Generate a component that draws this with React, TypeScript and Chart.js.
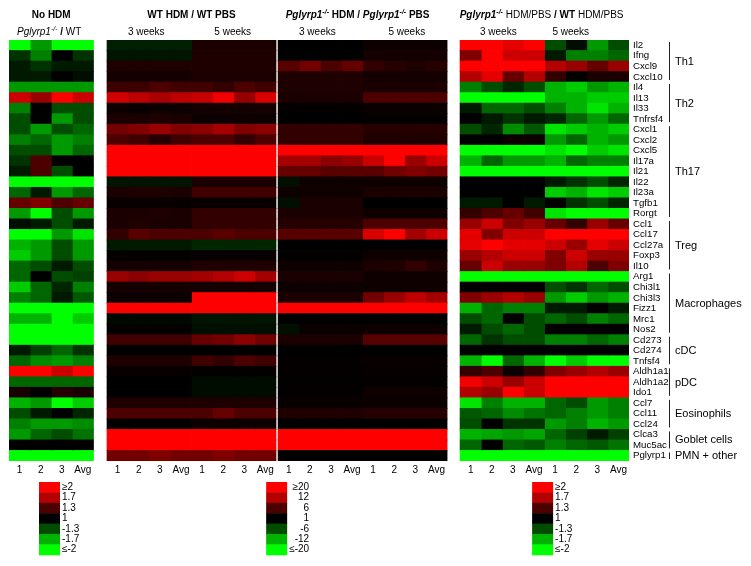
import React, { useEffect, useRef } from "react";
import { Chart, registerables } from "chart.js";
Chart.register(...registerables);

const FAMILY = "'Liberation Sans', Arial, sans-serif";

const genes = ["Il2","Ifng","Cxcl9","Cxcl10","Il4","Il13","Il33","Tnfrsf4","Cxcl1","Cxcl2","Cxcl5","Il17a","Il21","Il22","Il23a","Tgfb1","Rorgt","Ccl1","Ccl17","Ccl27a","Foxp3","Il10","Arg1","Chi3l1","Chi3l3","Fizz1","Mrc1","Nos2","Cd273","Cd274","Tnfsf4","Aldh1a1","Aldh1a2","Ido1","Ccl7","Ccl11","Ccl24","Clca3","Muc5ac","Pglyrp1"];

const columnLabels = ["1", "2", "3", "Avg"];

// Pglyrp1-/- / WT, no HDM (fold change)
const noHdm = [
  [-2,-1.6,-2,-2],[-1.2,-1.5,1,-1.2],[-1.1,-1.2,-1.1,-1.1],[-1.1,-1.1,1,-1.05],[-1.6,-1.6,-1.6,-1.6],
  [1.8,1.6,2,1.8],[-1.5,1,-1.3,-1.3],[-1.3,1,-1.6,-1.3],[-1.3,-1.6,-1.3,-1.4],[-1.5,-1.4,-1.6,-1.5],
  [-1.3,-1.3,-1.6,-1.4],[-1.2,1.3,1,1],[-1.1,1.3,-1.3,1],[-2,-2,-2,-2],[-1.4,-1.1,-1.6,-1.4],
  [1.4,1.5,1.3,1.4],[-1.6,-2,-1.3,-1.6],[-1.05,-1.1,-1.3,-1.1],[-2,-2,-1.6,-1.9],[-1.7,-1.6,-1.3,-1.6],
  [-1.8,-1.6,-1.3,-1.6],[-1.4,-1.3,-1.1,-1.3],[-1.4,1,-1.3,-1.25],[-1.8,-1.4,-1.15,-1.5],[-1.5,-1.4,-1.1,-1.35],
  [-2,-2,-2,-2],[-1.7,-1.7,-2,-1.8],[-2,-2,-2,-2],[-2,-2,-2,-2],[-1.1,-1.25,-1.4,-1.2],
  [-1.4,-1.55,-1.6,-1.5],[2,2,1.8,2],[-1.4,-1.4,-1.4,-1.4],[1.1,1,1.15,1.1],[-1.7,-1.6,-2,-1.8],
  [-1.3,-1.1,1,-1.15],[-1.5,-1.6,-1.6,-1.55],[-1.6,-1.4,-1.3,-1.45],[1,1,1,1],[-2,-2,-2,-2]
];

// WT HDM / WT PBS, 3 weeks
const wtHdm3w = [
  [-3,-3,-3,-3],[-2.3,-2.3,-2.3,-2.3],[3,3,3,3],[2.3,2.3,2.3,2.3],[5,5,6,5.2],
  [15,13,11.5,13],[1.8,1.5,1.8,1.8],[2.7,2.7,3,2.7],[8.2,9,10.5,9],[6,5.2,3.5,5.2],
  [20,20,20,20],[20,20,20,20],[20,20,20,20],[-2.3,-2.3,-2.3,-2.3],[2.7,3,3,2.7],
  [1.5,1.5,1.5,1.5],[2.7,2.7,3,2.7],[2.7,3,2.7,2.7],[4.3,6.7,6,6],[-2.7,-2.7,-2.7,-2.7],
  [1.3,1.3,1.3,1.3],[2.3,2.3,2.3,2.3],[10.5,9.7,10.5,10.5],[2.3,2.3,2.3,2.3],[1.8,1.8,1.8,1.8],
  [20,20,20,20],[-1.5,-1.5,-1.5,-1.5],[1.3,1.3,1.3,1.3],[5.2,5.2,5.2,5.2],[1,1,1,1],
  [3,3,3,3],[1.5,1.5,1.5,1.5],[1,1,1,1],[1,1,1,1],[3,3,3,3],
  [6,6,6,6],[1.3,1.3,1.3,1.3],[20,20,20,20],[20,20,20,20],[8.2,8.2,9,8.2]
];

// WT HDM / WT PBS, 5 weeks
const wtHdm5w = [
  [2.7,2.7,2.7,2.7],[3,3,3,3],[3,3,3,3],[2.7,2.7,2.7,2.7],[5.2,4.3,6,5.2],
  [14,18.5,10.3,16],[2.3,2.3,2.3,2.3],[1.8,1.8,1.8,1.8],[9.7,11.2,9,9.7],[6,6,4.3,6],
  [20,20,20,20],[20,20,20,20],[20,20,20,20],[2.7,2.7,2.7,2.7],[5.2,5.2,5.2,5.2],
  [1.5,1.5,1.5,1.5],[4.3,4.3,4.3,4.3],[4.3,4.3,4.3,4.3],[6,6.7,6,6],[-3.5,-3.5,-3.5,-3.5],
  [1.5,1.5,1.5,1.5],[3,3,3,3],[11.2,12,14.7,11.2],[2.3,2.3,2.3,2.3],[20,20,20,20],
  [20,20,20,20],[-2.3,-2.3,-2.3,-2.3],[-2,-2,-2,-2],[7.5,8.2,9.7,8.2],[1,1,1,1],
  [5.2,4.3,6,5.2],[1.3,1.3,1.3,1.3],[-1.8,-1.8,-1.8,-1.8],[-1.8,-1.8,-1.8,-1.8],[3,3,3,3],
  [6,7.5,6,6],[1.8,1.8,1.8,1.8],[20,20,20,20],[20,20,20,20],[8.2,9,8.2,8.2]
];

// Pglyrp1-/- HDM / Pglyrp1-/- PBS, 3 weeks
const koHdm3w = [
  [1,1,1,1],[1,1,1,1],[6.7,8.2,6,7.5],[3,3,3,3],[3,3,3,3],
  [2.7,2.7,2.7,2.7],[1.3,1.3,1.3,1.3],[1,1,1,1],[4.3,4.3,4.3,4.3],[4.3,4.3,4.3,4.3],
  [20,20,20,20],[11.2,11.2,9.7,10.5],[7.5,7.5,6.7,6.7],[-2,2,2,2],[2,2,2,2],
  [-2,2.7,2.7,2.7],[2.7,2.7,2.7,2.7],[3.5,3.5,3.5,3.5],[6.7,6.7,6.7,6.7],[1,1,1,1],
  [1.2,1.2,1.2,1.2],[2,2,2,2],[2.7,2.7,2.7,2.7],[1.8,1.8,1.8,1.8],[2.7,2.7,2.7,2.7],
  [20,20,20,20],[1,1,1,1],[-2,1.7,1.7,1.7],[2.7,2.7,2.7,2.7],[1,1,1,1],
  [1.3,1.3,1.3,1.3],[1.3,1.3,1.3,1.3],[1.2,1.2,1.2,1.2],[1.3,1.3,1.3,1.3],[1.5,1.5,1.5,1.5],
  [3,3,3,3],[1,1,1,1],[20,20,20,20],[20,20,20,20],[1,1,1,1]
];

// Pglyrp1-/- HDM / Pglyrp1-/- PBS, 5 weeks
const koHdm5w = [
  [1.8,1.8,1.8,1.8],[2.3,2.3,2.3,2.3],[4.3,3.5,3,3.5],[2.3,2.3,2.3,2.3],[2.7,2.7,2.7,2.7],
  [6,6,6,6],[1.7,1.7,1.7,1.7],[1.3,1.3,1.3,1.3],[3.5,3.5,3.5,3.5],[3,3,3,3],
  [20,20,20,20],[14.7,20,10.5,14.7],[6.7,8.2,9,8.2],[2,2,2,2],[2.7,2.7,2.7,2.7],
  [1,1,1,1],[2,2,2,2],[6,6,6,6],[16,20,11.2,14.7],[1,1,1,1],
  [2,2,2,2],[2.7,3,4.3,3],[2,2,2,2],[2,2,2,2],[8.2,10.5,13.3,11.2],
  [20,20,20,20],[1,1,1,1],[1.8,1.8,1.8,1.8],[6.7,6.7,6.7,6.7],[1,1,1,1],
  [1.5,1.5,1.5,1.5],[1.4,1.4,1.4,1.4],[1.3,1.3,1.3,1.3],[2,2,2,2],[1.7,1.7,1.7,1.7],
  [3.5,3.5,3.5,3.5],[1,1,1,1],[20,20,20,20],[20,20,20,20],[1,1,1,1]
];

// Pglyrp1-/- HDM/PBS / WT HDM/PBS, 3 weeks
const koVsWt3w = [
  [2,2,1.9,2],[1.5,2,1.8,1.8],[2,2,2,2],[1.7,1.9,1.4,1.7],[-1.5,-1.3,-1.15,-1.3],
  [-2,-2,-2,-2],[-1.1,-1.4,-1.4,-1.3],[1,-1.1,-1.2,-1.1],[-1.3,-1.15,-1.55,-1.35],[1,1,1.05,1.05],
  [-2,-2,-2,-2],[-1.7,-1.4,-1.6,-1.6],[-2,-2,-2,-2],[1,1,1,1],[1,1,1,1],
  [-1.1,-1.1,1,-1.1],[1.2,1.3,1.4,1.25],[1.6,1.8,1.5,1.6],[1.9,1.5,1.8,1.8],[1.9,2,1.9,1.9],
  [1.6,1.7,1.8,1.8],[1.4,1.8,1.6,1.6],[-2,-2,-2,-2],[1,1,1,1],[1.5,1.6,1.7,1.6],
  [-1.7,-1.4,-1.5,-1.5],[-1.3,-1.4,1,-1.3],[-1.1,-1.3,-1.4,-1.3],[-1.4,-1.2,-1.3,-1.3],[1,1,1,1],
  [-1.7,-2,-1.4,-1.7],[1.2,1.3,1.05,1.2],[1.95,1.8,1.6,1.8],[1.7,1.6,2,1.8],[-1.9,-1.5,-1.7,-1.7],
  [-1.35,-1.4,-1.55,-1.45],[-1.3,1,-1.2,-1.2],[-1.7,-1.65,-1.6,-1.65],[-1.4,1,-1.4,-1.35],[-2,-2,-2,-2]
];

// Pglyrp1-/- HDM/PBS / WT HDM/PBS, 5 weeks
const koVsWt5w = [
  [-1.3,-1.05,-1.6,-1.3],[-1.1,-1.5,-1.5,-1.4],[1.7,1.6,1.4,1.6],[1.2,1,1.1,1.1],[-1.7,-1.8,-1.6,-1.7],
  [-1.7,-1.7,-1.8,-1.8],[-1.5,-1.7,-1.9,-1.7],[-1.15,-1.4,-1.6,-1.4],[-1.9,-1.8,-1.7,-1.8],[-1.6,-1.4,-1.7,-1.6],
  [-1.9,-2,-1.8,-1.9],[-1.7,-1.4,-1.5,-1.5],[-2,-2,-2,-2],[-1.1,-1.2,-1.3,-1.15],[-1.8,-1.7,-1.9,-1.8],
  [1,-1.2,-1.3,-1.15],[-1.9,-2,-2,-2],[1.4,1.2,1.6,1.4],[2,2,2,2],[1.8,1.6,1.9,1.8],
  [1.5,1.8,1.6,1.6],[1.5,1.7,1.3,1.5],[-2,-2,-2,-2],[-1.3,-1.2,-1.4,-1.3],[-1.6,-1.8,-1.6,-1.7],
  [-1.1,-1.1,1,-1.1],[-1.4,-1.3,-1.5,-1.4],[1,1,1,1],[-1.5,-1.5,-1.4,-1.5],[1,1,1,1],
  [-2,-1.8,-2,-2],[1.5,1.6,1.7,1.6],[2,2,2,2],[2,2,2,2],[-1.4,-1.3,-1.6,-1.5],
  [-1.4,-1.5,-1.6,-1.5],[-1.6,-1.5,-1.7,-1.6],[-1.4,-1.25,-1.1,-1.25],[-1.5,-1.4,-1.35,-1.45],[-2,-2,-2,-2]
];

const groupNames = ["Th1","Th2","Th17","Treg","Macrophages","cDC","pDC","Eosinophils","Goblet cells","PMN + other"];
const groupFirst = [0, 4, 8, 17, 22, 28, 31, 34, 37, 39];
const groupLast = [3, 7, 16, 21, 27, 30, 33, 36, 38, 39];

const legendValues2 = [2, 1.7, 1.3, 1, -1.3, -1.7, -2];
const legendLabels2 = ["\u22652", "1.7", "1.3", "1", "-1.3", "-1.7", "\u2264-2"];
const legendValues20 = [20, 12, 6, 1, -6, -12, -20];
const legendLabels20 = ["\u226520", "12", "6", "1", "-6", "-12", "\u2264-20"];

const stops2 = [1, 1.3, 1.7, 2];
const stops20 = [1, 6, 12, 20];

// layout (x axis units = column widths)
const X_MAX = 29.37;
const blocks = [
  { values: noHdm, start: 0, stops: stops2 },
  { values: wtHdm3w, start: 4.645, stops: stops20 },
  { values: wtHdm5w, start: 8.645, stops: stops20 },
  { values: koHdm3w, start: 12.75, stops: stops20 },
  { values: koHdm5w, start: 16.75, stops: stops20 },
  { values: koVsWt3w, start: 21.37, stops: stops2 },
  { values: koVsWt5w, start: 25.37, stops: stops2 },
];

function heatColor(v: number, stops: number[]) {
  const a = Math.abs(v);
  const lv = [0, 0.3, 0.7, 1];
  let t = 1;
  if (a <= stops[0]) t = 0;
  else {
    for (let k = 1; k < stops.length; k++) {
      if (a <= stops[k]) {
        t = lv[k - 1] + ((a - stops[k - 1]) / (stops[k] - stops[k - 1])) * (lv[k] - lv[k - 1]);
        break;
      }
    }
  }
  const c = Math.round(255 * t);
  return v > 0 ? `rgb(${c},0,0)` : `rgb(0,${c},0)`;
}

type Seg = { t: string; b?: boolean; i?: boolean; sup?: boolean };

function segFont(s: Seg, size: number) {
  const sz = s.sup ? Math.round(size * 0.72) : size;
  return `${s.i ? "italic " : ""}${s.b ? "bold " : ""}${sz}px ${FAMILY}`;
}

function drawRich(ctx: CanvasRenderingContext2D, segs: Seg[], cx: number, y: number, size: number) {
  let w = 0;
  for (const s of segs) {
    ctx.font = segFont(s, size);
    w += ctx.measureText(s.t).width;
  }
  let x = cx - w / 2;
  ctx.textAlign = "left";
  ctx.textBaseline = "middle";
  for (const s of segs) {
    ctx.font = segFont(s, size);
    ctx.fillText(s.t, x, s.sup ? y - size * 0.32 : y);
    x += ctx.measureText(s.t).width;
  }
}

const decorPlugin = {
  id: "decor",
  afterDraw(chart: any) {
    const ctx: CanvasRenderingContext2D = chart.ctx;
    const xs = chart.scales.x;
    const ys = chart.scales.y;
    const area = chart.chartArea;
    const rowH = (area.bottom - area.top) / genes.length;
    const px = (u: number) => xs.getPixelForValue(u);
    ctx.save();
    ctx.fillStyle = "#000";

    // titles
    const T = 10;
    const y1 = 15;
    const y2 = 32;
    drawRich(ctx, [{ t: "No HDM", b: true }], (px(0) + px(4)) / 2, y1, T);
    drawRich(ctx, [{ t: "Pglyrp1", i: true }, { t: "-/-", i: true, sup: true }, { t: " / ", b: true }, { t: "WT" }], (px(0) + px(4)) / 2 - 2, y2, T);

    drawRich(ctx, [{ t: "WT HDM / WT PBS", b: true }], (px(4.645) + px(12.645)) / 2, y1, T);
    drawRich(ctx, [
      { t: "Pglyrp1", b: true, i: true }, { t: "-/-", b: true, i: true, sup: true }, { t: " HDM / ", b: true },
      { t: "Pglyrp1", b: true, i: true }, { t: "-/-", b: true, i: true, sup: true }, { t: " PBS", b: true },
    ], (px(12.75) + px(20.75)) / 2 - 5, y1, T);
    drawRich(ctx, [
      { t: "Pglyrp1", b: true, i: true }, { t: "-/-", b: true, i: true, sup: true }, { t: " HDM/PBS " },
      { t: "/ ", b: true }, { t: "WT", b: true }, { t: " HDM/PBS" },
    ], (px(21.37) + px(29.37)) / 2 - 3, y1, T);

    const weekCenters = [
      [(px(4.645) + px(8.645)) / 2 - 3, "3 weeks"], [(px(8.645) + px(12.645)) / 2 - 1, "5 weeks"],
      [(px(12.75) + px(16.75)) / 2 - 3, "3 weeks"], [(px(16.75) + px(20.75)) / 2 + 2, "5 weeks"],
      [(px(21.37) + px(25.37)) / 2 - 4, "3 weeks"], [(px(25.37) + px(29.37)) / 2 - 16, "5 weeks"],
    ] as [number, string][];
    for (const [cx, label] of weekCenters) drawRich(ctx, [{ t: label }], cx, y2, T);

    // group brackets
    const bx = area.right + 40;
    ctx.strokeStyle = "#222";
    ctx.lineWidth = 1;
    for (let g = 0; g < groupNames.length; g++) {
      const top = ys.getPixelForValue(groupFirst[g]) - rowH / 2;
      const bot = ys.getPixelForValue(groupLast[g]) + rowH / 2;
      ctx.beginPath();
      ctx.moveTo(bx + 0.5, top + 2);
      ctx.lineTo(bx + 0.5, bot - 2);
      ctx.stroke();
      ctx.font = `11px ${FAMILY}`;
      ctx.textAlign = "left";
      ctx.textBaseline = "middle";
      ctx.fillText(groupNames[g], bx + 6, (top + bot) / 2 + 0.5);
    }

    // colour legends
    const swH = 10.4;
    const legTop = area.bottom + 21;
    const legends = [
      { x0: px(0) + 30, values: legendValues2, labels: legendLabels2, stops: stops2, right: false },
      { x0: px(12.75) - 12, values: legendValues20, labels: legendLabels20, stops: stops20, right: true },
      { x0: px(21.37) + 72, values: legendValues2, labels: legendLabels2, stops: stops2, right: false },
    ];
    for (const lg of legends) {
      for (let k = 0; k < lg.values.length; k++) {
        const y = legTop + k * swH;
        ctx.fillStyle = heatColor(lg.values[k], lg.stops);
        ctx.fillRect(lg.x0, y, 21, swH + 0.5);
        ctx.fillStyle = "#000";
        ctx.font = `10px ${FAMILY}`;
        ctx.textBaseline = "middle";
        if (lg.right) {
          ctx.textAlign = "right";
          ctx.fillText(lg.labels[k], lg.x0 + 43, y + swH / 2);
        } else {
          ctx.textAlign = "left";
          ctx.fillText(lg.labels[k], lg.x0 + 23, y + swH / 2);
        }
      }
    }
    ctx.restore();
  },
};

export default function App() {
  const ref = useRef<HTMLCanvasElement | null>(null);
  useEffect(() => {
    if (!ref.current) return;
    const datasets: any[] = [];
    const tickValues: number[] = [];
    const tickLabels: string[] = [];
    for (const blk of blocks) {
      for (let c = 0; c < 4; c++) {
        const x0 = blk.start + c;
        tickValues.push(x0 + 0.5);
        tickLabels.push(columnLabels[c]);
        datasets.push({
          data: genes.map(() => [x0, x0 + 1]),
          backgroundColor: genes.map((_, r) => heatColor(blk.values[r][c], blk.stops)),
          borderWidth: 0,
          grouped: false,
          barPercentage: 1,
          categoryPercentage: 1,
          inflateAmount: 0.4,
        });
      }
    }
    const chart = new Chart(ref.current, {
      type: "bar",
      data: { labels: genes, datasets },
      options: {
        indexAxis: "y",
        animation: false,
        responsive: false,
        maintainAspectRatio: false,
        layout: { padding: { left: 9, top: 40, right: 0, bottom: 85 } },
        plugins: { legend: { display: false }, tooltip: { enabled: false } },
        scales: {
          x: {
            type: "linear",
            min: 0,
            max: X_MAX,
            position: "bottom",
            grid: { display: false, drawTicks: false },
            border: { display: false },
            afterBuildTicks: (s: any) => {
              s.ticks = tickValues.map((v) => ({ value: v }));
            },
            afterFit: (s: any) => {
              s.height = 20;
            },
            ticks: {
              autoSkip: false,
              maxRotation: 0,
              padding: 3,
              color: "#000",
              font: { family: FAMILY, size: 10 },
              callback: (_v: any, i: number) => tickLabels[i],
            },
          },
          y: {
            type: "category",
            position: "right",
            grid: { display: false, drawTicks: false },
            border: { display: false },
            afterFit: (s: any) => {
              s.width = 122;
            },
            ticks: {
              autoSkip: false,
              padding: 4,
              color: "#000",
              font: { family: FAMILY, size: 9.7 },
            },
          },
        },
      } as any,
      plugins: [decorPlugin],
    });
    return () => chart.destroy();
  }, []);
  return (
    <div style={{ position: "absolute", left: 0, top: 0, width: 751, height: 566, background: "#fff" }}>
      <canvas ref={ref} width={751} height={566} style={{ display: "block" }} />
    </div>
  );
}
